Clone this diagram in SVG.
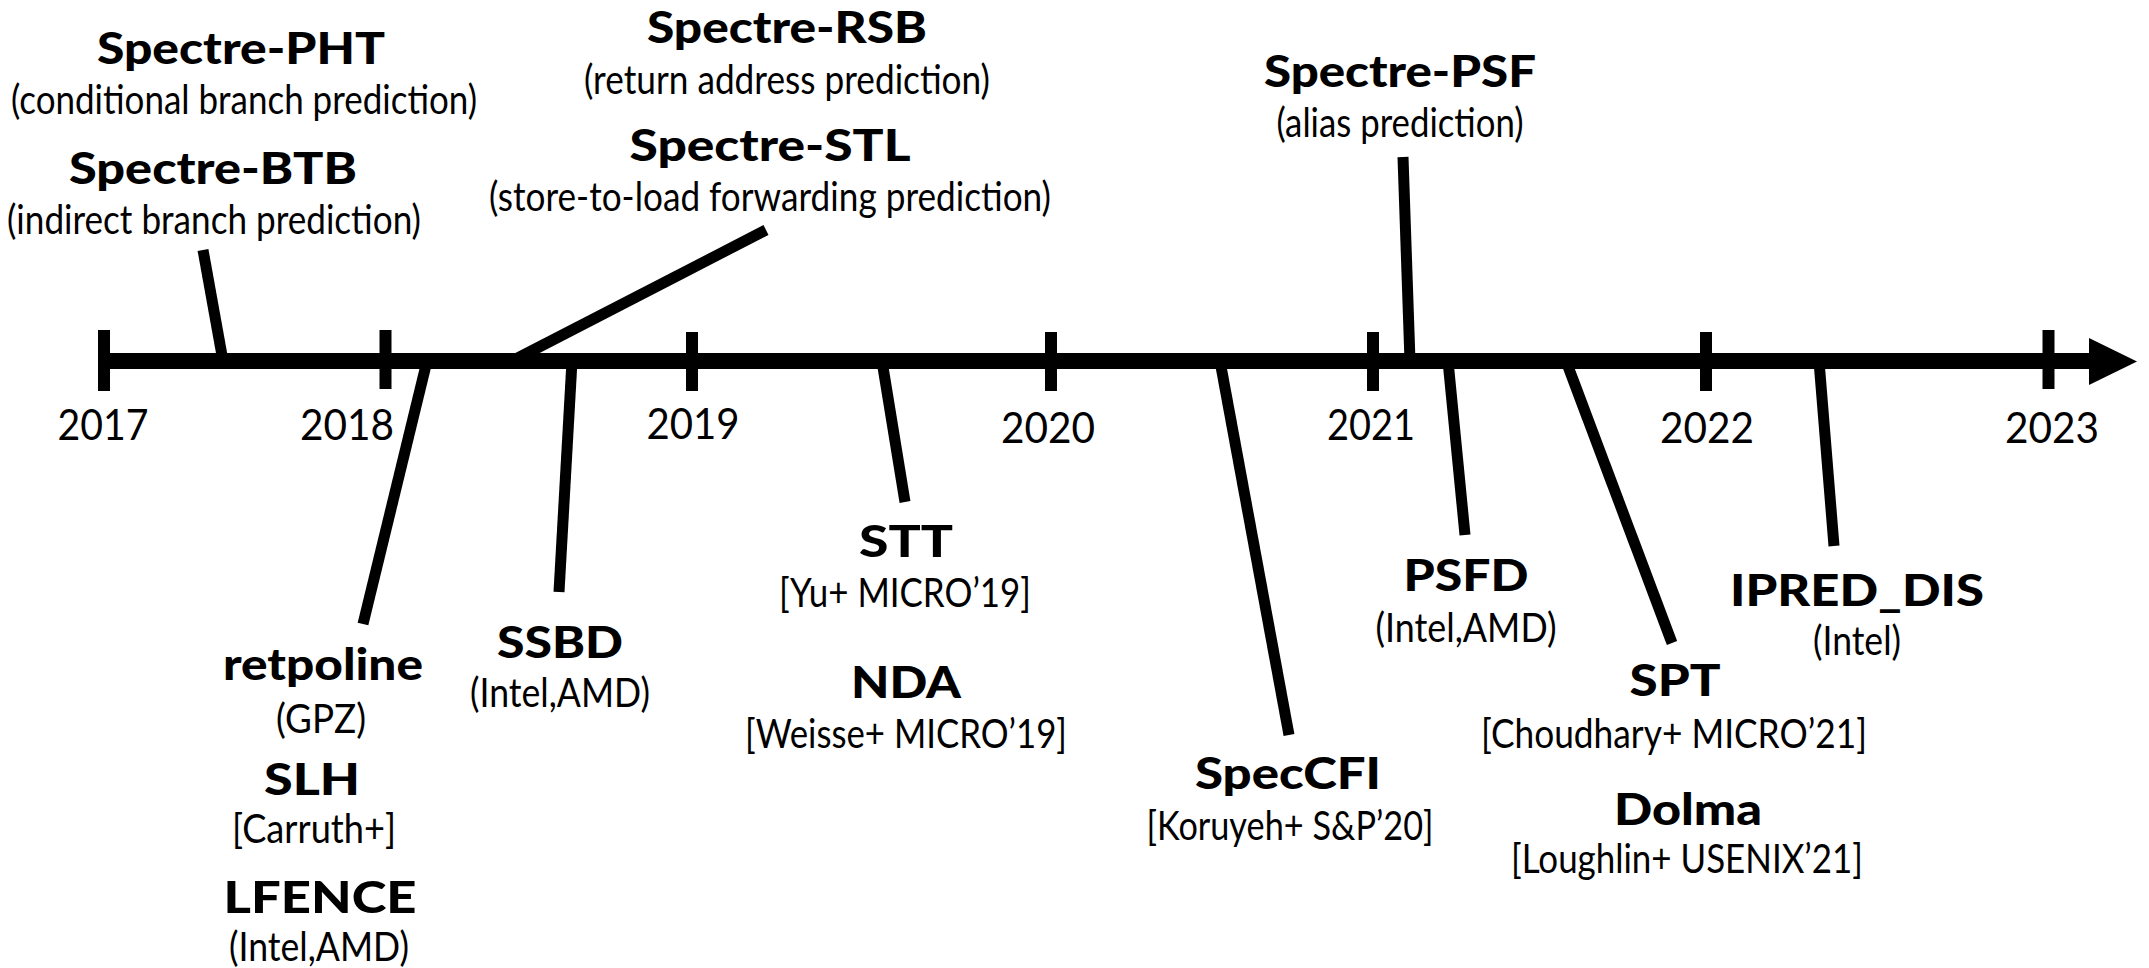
<svg xmlns="http://www.w3.org/2000/svg" width="2149" height="968" viewBox="0 0 2149 968">
<style>
text{font-family:Lato,"Open Sans","Liberation Sans",sans-serif;text-anchor:middle;fill:#000}
.b{font-weight:900;font-size:44px}
.r{font-weight:400;font-size:40px}
.y{font-weight:400;font-size:43px}
.c{stroke:#000;stroke-width:11;fill:none;stroke-linecap:butt}
.t{stroke:#000;stroke-width:12;fill:none}
</style>
<rect width="2149" height="968" fill="#fff"/>
<g id="connectors">
<line class="c" x1="203" y1="250" x2="223" y2="361"/>
<line class="c" x1="766" y1="230" x2="512" y2="361"/>
<line class="c" x1="1403" y1="157" x2="1410" y2="361"/>
<line class="c" x1="427" y1="361" x2="363" y2="624"/>
<line class="c" x1="572" y1="361" x2="559" y2="592"/>
<line class="c" x1="882" y1="361" x2="905" y2="502"/>
<line class="c" x1="1220" y1="361" x2="1289" y2="735"/>
<line class="c" x1="1448" y1="361" x2="1465" y2="535"/>
<line class="c" x1="1566" y1="361" x2="1672" y2="643"/>
<line class="c" x1="1819" y1="361" x2="1834" y2="546"/>
</g>
<g id="timeline">
<rect x="104" y="353" width="1988" height="16" fill="#000"/>
<polygon points="2089,338 2137,361.5 2089,385" fill="#000"/>
<line class="t" x1="104" y1="330" x2="104" y2="391"/>
<line class="t" x1="385.5" y1="330" x2="385.5" y2="389"/>
<line class="t" x1="692" y1="332" x2="692" y2="391"/>
<line class="t" x1="1051" y1="332" x2="1051" y2="391"/>
<line class="t" x1="1373" y1="332" x2="1373" y2="391"/>
<line class="t" x1="1706" y1="332" x2="1706" y2="391"/>
<line class="t" x1="2048.5" y1="330" x2="2048.5" y2="389"/>
<text class="y" x="103" y="440" textLength="91" lengthAdjust="spacingAndGlyphs">2017</text>
<text class="y" x="347" y="440" textLength="94" lengthAdjust="spacingAndGlyphs">2018</text>
<text class="y" x="693" y="439" textLength="93" lengthAdjust="spacingAndGlyphs">2019</text>
<text class="y" x="1048" y="443" textLength="94" lengthAdjust="spacingAndGlyphs">2020</text>
<text class="y" x="1371" y="440" textLength="88" lengthAdjust="spacingAndGlyphs">2021</text>
<text class="y" x="1707" y="443" textLength="94" lengthAdjust="spacingAndGlyphs">2022</text>
<text class="y" x="2052" y="443" textLength="94" lengthAdjust="spacingAndGlyphs">2023</text>
</g>
<g id="spectre-pht">
<text class="b" x="241" y="64" textLength="288" lengthAdjust="spacingAndGlyphs">Spectre-PHT</text>
<text class="r" x="244" y="114" textLength="466" lengthAdjust="spacingAndGlyphs">(conditional branch prediction)</text>
</g>
<g id="spectre-btb">
<text class="b" x="213" y="184" textLength="288" lengthAdjust="spacingAndGlyphs">Spectre-BTB</text>
<text class="r" x="214" y="234" textLength="414" lengthAdjust="spacingAndGlyphs">(indirect branch prediction)</text>
</g>
<g id="spectre-rsb">
<text class="b" x="787" y="43" textLength="280" lengthAdjust="spacingAndGlyphs">Spectre-RSB</text>
<text class="r" x="787" y="94" textLength="406" lengthAdjust="spacingAndGlyphs">(return address prediction)</text>
</g>
<g id="spectre-stl">
<text class="b" x="770" y="161" textLength="281" lengthAdjust="spacingAndGlyphs">Spectre-STL</text>
<text class="r" x="770" y="211" textLength="562" lengthAdjust="spacingAndGlyphs">(store-to-load forwarding prediction)</text>
</g>
<g id="spectre-psf">
<text class="b" x="1400" y="87" textLength="272" lengthAdjust="spacingAndGlyphs">Spectre-PSF</text>
<text class="r" x="1400" y="137" textLength="247" lengthAdjust="spacingAndGlyphs">(alias prediction)</text>
</g>
<g id="retpoline">
<text class="b" x="323" y="680" textLength="200" lengthAdjust="spacingAndGlyphs">retpoline</text>
<text class="r" x="321" y="733" textLength="90" lengthAdjust="spacingAndGlyphs">(GPZ)</text>
</g>
<g id="slh">
<text class="b" x="312" y="795" textLength="96" lengthAdjust="spacingAndGlyphs">SLH</text>
<text class="r" x="314" y="843" textLength="164" lengthAdjust="spacingAndGlyphs">[Carruth+]</text>
</g>
<g id="lfence">
<text class="b" x="320" y="913" textLength="193" lengthAdjust="spacingAndGlyphs">LFENCE</text>
<text class="r" x="319" y="961" textLength="180" lengthAdjust="spacingAndGlyphs">(Intel,AMD)</text>
</g>
<g id="ssbd">
<text class="b" x="560" y="658" textLength="126" lengthAdjust="spacingAndGlyphs">SSBD</text>
<text class="r" x="560" y="707" textLength="180" lengthAdjust="spacingAndGlyphs">(Intel,AMD)</text>
</g>
<g id="stt">
<text class="b" x="906" y="557" textLength="94" lengthAdjust="spacingAndGlyphs">STT</text>
<text class="r" x="905" y="607" textLength="252" lengthAdjust="spacingAndGlyphs">[Yu+ MICRO’19]</text>
</g>
<g id="nda">
<text class="b" x="906" y="698" textLength="110" lengthAdjust="spacingAndGlyphs">NDA</text>
<text class="r" x="906" y="748" textLength="322" lengthAdjust="spacingAndGlyphs">[Weisse+ MICRO’19]</text>
</g>
<g id="speccfi">
<text class="b" x="1288" y="789" textLength="186" lengthAdjust="spacingAndGlyphs">SpecCFI</text>
<text class="r" x="1290" y="840" textLength="287" lengthAdjust="spacingAndGlyphs">[Koruyeh+ S&amp;P’20]</text>
</g>
<g id="psfd">
<text class="b" x="1466" y="591" textLength="125" lengthAdjust="spacingAndGlyphs">PSFD</text>
<text class="r" x="1466" y="642" textLength="181" lengthAdjust="spacingAndGlyphs">(Intel,AMD)</text>
</g>
<g id="spt">
<text class="b" x="1675" y="696" textLength="91" lengthAdjust="spacingAndGlyphs">SPT</text>
<text class="r" x="1674" y="748" textLength="386" lengthAdjust="spacingAndGlyphs">[Choudhary+ MICRO’21]</text>
</g>
<g id="dolma">
<text class="b" x="1688" y="825" textLength="148" lengthAdjust="spacingAndGlyphs">Dolma</text>
<text class="r" x="1687" y="873" textLength="352" lengthAdjust="spacingAndGlyphs">[Loughlin+ USENIX’21]</text>
</g>
<g id="ipred-dis">
<text class="b" x="1857" y="606" textLength="254" lengthAdjust="spacingAndGlyphs">IPRED_DIS</text>
<text class="r" x="1857" y="655" textLength="88" lengthAdjust="spacingAndGlyphs">(Intel)</text>
</g>
</svg>
